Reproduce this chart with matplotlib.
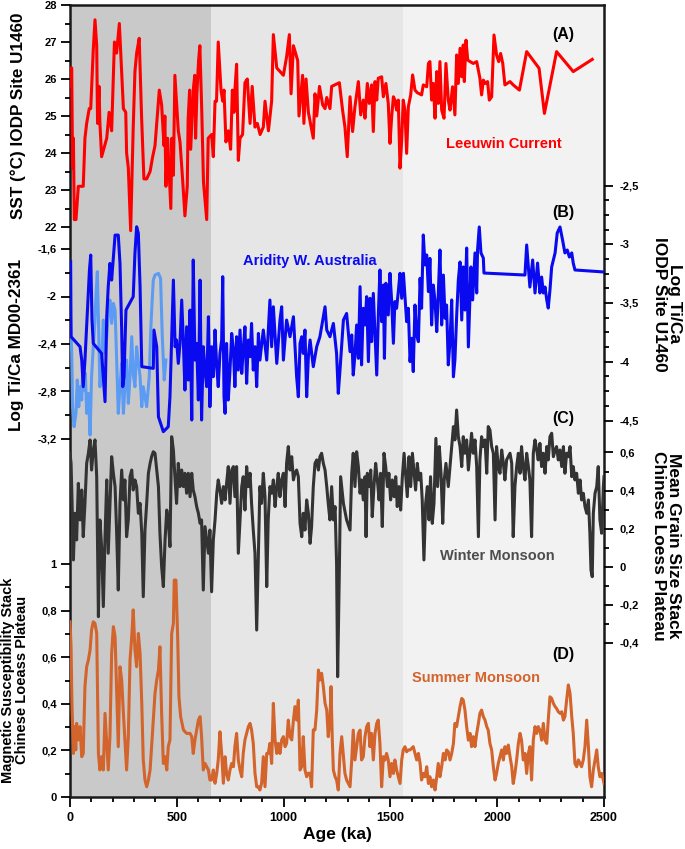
import matplotlib
matplotlib.use("Agg")
import matplotlib.pyplot as plt
from matplotlib.ticker import FuncFormatter, MultipleLocator

plt.rcParams["font.family"] = ["Liberation Sans", "DejaVu Sans"]
plt.rcParams["font.weight"] = "bold"

# ---- data (age in ka) ----
sst_age = [0, 3, 8, 12, 16, 20, 28, 39, 62, 70, 78, 90, 97, 109, 117, 125, 129, 136, 140, 148,
           172, 183, 195, 208, 218, 231, 250, 261, 265, 273, 284, 296, 304, 312, 324, 335, 346, 359,
           375, 387, 398, 418, 429, 440, 444, 449, 457, 465, 472, 477, 484, 491, 507, 515, 527, 538,
           549, 553, 560, 565, 577, 584, 588, 594, 602, 608, 617, 625, 640, 647, 663, 671, 679, 686,
           694, 707, 715, 721, 730, 741, 752, 760, 768, 772, 780, 788, 796, 808, 819, 830, 843, 853,
           866, 877, 890, 905, 913, 929, 944, 952, 968, 999, 1014, 1027, 1035, 1046, 1066, 1072,
           1081, 1089, 1095, 1105, 1116, 1139, 1147, 1155, 1168, 1183, 1194, 1202, 1217, 1225, 1261,
           1276, 1287, 1298, 1311, 1323, 1334, 1350, 1361, 1373, 1381, 1392, 1401, 1412, 1420, 1428,
           1436, 1443, 1459, 1467, 1479, 1490, 1498, 1506, 1514, 1521, 1529, 1537, 1545, 1553, 1560,
           1568, 1576, 1584, 1595, 1604, 1615, 1626, 1646, 1654, 1670, 1678, 1685, 1693, 1701, 1709,
           1717, 1724, 1732, 1740, 1751, 1760, 1771, 1779, 1791, 1802, 1810, 1818, 1826, 1834, 1841,
           1846, 1854, 1862, 1873, 1888, 1904, 1919, 1927, 1935, 1944, 1955, 1963, 1974, 1985, 1997,
           2007, 2016, 2026, 2036, 2060, 2075, 2104, 2138, 2196, 2221, 2278, 2356, 2445]
sst_val = [25.8, 26.3, 26.3, 23.6, 24.4, 22.2, 22.2, 23.1, 23.1, 24.4, 24.8, 25.2, 25.2, 26.8,
           27.6, 26.9, 24.8, 25.8, 24.8, 23.9, 24.4, 25.1, 24.6, 27.0, 26.7, 27.5, 25.2, 25.1, 24.0,
           23.6, 21.9, 24.7, 26.2, 26.7, 27.1, 25.0, 23.3, 23.3, 23.5, 23.9, 24.2, 25.7, 25.3, 24.2,
           25.0, 23.1, 24.4, 23.4, 22.5, 24.4, 23.4, 26.1, 24.6, 24.3, 23.3, 22.3, 23.1, 24.9, 25.7,
           24.1, 25.7, 26.1, 24.4, 25.6, 26.5, 26.9, 25.1, 23.2, 22.2, 24.4, 24.5, 23.9, 25.4, 25.4,
           27.0, 25.7, 25.4, 25.7, 24.3, 24.6, 24.1, 25.7, 25.1, 25.7, 26.4, 23.8, 24.4, 24.5, 25.9,
           26.0, 24.8, 25.8, 24.7, 24.8, 24.5, 24.7, 25.4, 24.6, 25.4, 27.2, 26.3, 26.1, 26.6, 27.2,
           25.6, 26.9, 26.5, 25.0, 25.6, 26.1, 24.8, 26.0, 25.1, 24.4, 25.6, 25.0, 25.8, 25.3, 25.2,
           25.5, 25.2, 25.8, 25.9, 25.16, 24.71, 23.90, 25.52, 24.58, 25.25, 25.93, 25.03, 25.43,
           24.94, 25.88, 25.34, 25.84, 24.58, 25.93, 25.43, 26.02, 26.06, 25.52, 25.88, 25.34, 24.26,
           24.98, 25.52, 25.43, 25.16, 25.43, 23.59, 24.35, 25.43, 25.16, 23.99, 25.25, 25.57, 26.11,
           25.70, 25.63, 25.57, 25.84, 25.79, 26.42, 26.47, 25.43, 25.88, 24.94, 26.20, 25.34, 26.47,
           25.16, 24.94, 26.42, 25.43, 25.16, 25.79, 25.03, 26.65, 25.88, 26.83, 26.06, 26.92, 25.93,
           27.05, 26.51, 26.47, 26.42, 26.47, 26.02, 25.57, 25.97, 25.88, 25.93, 25.43, 25.52, 27.19,
           26.65, 26.47, 26.69, 26.42, 25.84, 25.93, 25.84, 25.70, 26.74, 26.29, 25.07, 26.74, 26.20,
           26.53]

# Log Ti/Ca MD00-2361 (light blue, left axis)
md_age = [0, 8, 12, 19, 28, 34, 41, 47, 55, 59, 66, 72, 78, 86, 94, 101, 109, 117, 122, 128, 134,
          140, 148, 156, 164, 172, 179, 187, 195, 203, 211, 218, 226, 234, 242, 250, 257, 265, 273,
          281, 289, 296, 304, 312, 328, 336, 343, 359, 371, 378, 384, 390, 398, 414, 424, 432, 441,
          449]
md_val = [-2.058, -2.479, -2.928, -3.096, -2.984, -2.703, -2.928, -2.760, -2.872, -2.647, -2.788,
          -2.647, -2.984, -2.816, -3.167, -2.675, -2.423, -2.198, -1.974, -1.791, -2.254, -2.760,
          -2.591, -2.198, -2.479, -2.338, -2.142, -2.030, -2.226, -2.058, -2.114, -2.507, -2.984,
          -2.760, -2.563, -2.984, -2.760, -2.535, -2.900, -2.675, -2.338, -2.647, -2.760, -2.423,
          -2.675, -2.928, -2.760, -2.928, -2.675, -2.282, -2.058, -1.861, -1.819, -1.805, -1.847,
          -2.338, -2.703, -2.535]

# Log Ti/Ca IODP U1460 (dark blue, right axis)
u_age = [3, 5, 47, 55, 62, 70, 83, 91, 97, 103, 109, 148, 164, 172, 179, 187, 195, 211, 226, 234,
         242, 247, 253, 262, 296, 304, 312, 320, 328, 336, 390, 393, 406, 414, 437, 460, 468, 476,
         484, 492, 499, 507, 515, 523, 531, 538, 546, 554, 562, 570, 577, 585, 593, 601, 609, 616,
         624, 632, 640, 648, 655, 663, 671, 679, 687, 694, 702, 710, 715, 721, 726, 733, 741, 749,
         757, 765, 772, 780, 788, 796, 804, 811, 819, 827, 835, 843, 850, 858, 866, 874, 882, 889,
         905, 921, 936, 944, 952, 968, 983, 991, 999, 1014, 1030, 1046, 1061, 1069, 1077, 1085,
         1092, 1100, 1108, 1116, 1124, 1139, 1155, 1170, 1186, 1194, 1202, 1217, 1233, 1248, 1256,
         1264, 1280, 1295, 1311, 1319, 1326, 1334, 1342, 1350, 1358, 1365, 1373, 1381, 1389, 1397,
         1405, 1412, 1420, 1428, 1436, 1444, 1451, 1459, 1467, 1472, 1479, 1490, 1498, 1506, 1514,
         1521, 1529, 1537, 1545, 1553, 1561, 1568, 1576, 1584, 1592, 1600, 1607, 1615, 1623, 1631,
         1639, 1646, 1654, 1662, 1670, 1678, 1685, 1693, 1701, 1709, 1717, 1724, 1732, 1740, 1748,
         1756, 1763, 1771, 1779, 1787, 1795, 1802, 1810, 1818, 1826, 1834, 1841, 1849, 1857, 1865,
         1873, 1877, 1885, 1896, 1904, 1908, 1916, 1924, 1935, 1938, 2130, 2138, 2146, 2153, 2166,
         2177, 2189, 2200, 2208, 2216, 2224, 2232, 2239, 2247, 2255, 2271, 2281, 2294, 2306, 2317,
         2328, 2338, 2349, 2356, 2364, 2500]
u_val = [-3.149, -3.787, -3.872, -3.986, -4.212, -3.986, -3.503, -3.220, -3.092, -3.645, -3.844,
         -3.929, -4.340, -3.617, -3.361, -3.163, -3.305, -2.922, -2.922, -3.163, -3.730, -4.212,
         -4.127, -3.560, -3.446, -3.078, -2.851, -2.907, -3.361, -4.042, -4.056, -3.730, -3.872,
         -4.468, -4.595, -4.553, -4.298, -3.787, -3.305, -3.872, -3.815, -4.014, -3.844, -3.475,
         -3.844, -4.241, -3.702, -4.156, -3.560, -4.496, -3.134, -3.986, -3.844, -4.326, -3.305,
         -4.496, -3.872, -4.071, -4.212, -3.617, -4.383, -3.872, -4.127, -3.730, -4.042, -4.212,
         -3.929, -3.815, -3.276, -4.298, -4.439, -3.844, -4.326, -4.071, -3.759, -3.900, -4.212,
         -3.787, -4.071, -3.730, -4.099, -3.900, -3.702, -4.184, -3.815, -3.957, -3.674, -4.071,
         -3.872, -4.212, -3.759, -3.986, -3.730, -3.986, -3.475, -3.872, -3.532, -4.014, -3.645,
         -3.532, -3.986, -3.645, -3.787, -3.617, -4.127, -4.298, -3.844, -3.787, -3.929, -3.730,
         -4.298, -3.957, -3.815, -4.042, -3.872, -3.787, -3.617, -3.532, -3.730, -3.787, -3.674,
         -3.929, -4.269, -4.071, -3.645, -3.589, -3.914, -3.772, -4.113, -3.942, -3.687, -3.971,
         -3.361, -4.027, -3.545, -3.687, -3.446, -3.999, -3.460, -3.829, -3.418, -3.772, -4.113,
         -3.574, -3.219, -3.659, -3.347, -3.971, -3.332, -3.602, -3.247, -3.488, -3.843, -3.488,
         -3.545, -3.403, -3.247, -3.460, -3.247, -3.446, -3.659, -3.545, -3.999, -3.800, -4.084,
         -3.517, -3.772, -3.829, -3.290, -3.545, -2.921, -3.176, -3.091, -3.403, -3.120, -3.687,
         -3.347, -3.488, -3.744, -3.432, -3.049, -3.687, -3.262, -3.630, -3.517, -4.027, -3.829,
         -3.474, -4.128, -3.985, -3.619, -3.304, -3.151, -3.645, -3.193, -3.560, -3.032, -3.874,
         -3.415, -3.193, -3.474, -3.074, -3.415, -3.049, -2.853, -3.074, -3.117, -3.245, -3.262,
         -3.006, -3.193, -3.364, -3.134, -3.415, -3.160, -3.415, -3.279, -3.415, -3.364, -3.474,
         -3.543, -3.389, -3.193, -3.074, -2.904, -2.853, -2.964, -3.074, -3.049, -3.109, -3.074,
         -3.160, -3.219, -3.236]

# Mean grain size stack (winter monsoon, right axis)
gs_age = [0, 5, 9, 16, 23, 31, 39, 47, 55, 62, 70, 78, 86, 94, 101, 109, 117, 125, 133, 140, 148,
          156, 164, 172, 179, 187, 195, 203, 211, 218, 226, 234, 242, 250, 257, 265, 273, 281, 289,
          296, 304, 312, 320, 328, 336, 343, 351, 359, 367, 375, 382, 390, 398, 406, 414, 421, 429,
          437, 445, 453, 460, 468, 476, 484, 492, 499, 507, 515, 523, 531, 538, 546, 554, 562, 570,
          577, 585, 593, 601, 609, 616, 624, 632, 640, 648, 655, 663, 671, 679, 687, 694, 702, 710,
          718, 726, 733, 741, 749, 757, 765, 772, 780, 788, 796, 804, 811, 819, 827, 835, 843, 850,
          858, 866, 874, 882, 889, 897, 905, 913, 921, 928, 936, 944, 952, 960, 968, 975, 983, 991,
          999, 1007, 1014, 1022, 1030, 1038, 1046, 1053, 1061, 1069, 1077, 1085, 1092, 1100, 1108,
          1116, 1124, 1131, 1139, 1147, 1155, 1163, 1170, 1178, 1186, 1194, 1202, 1209, 1217, 1225,
          1233, 1241, 1248, 1253, 1261, 1267, 1280, 1295, 1311, 1319, 1326, 1334, 1342, 1350, 1358,
          1365, 1373, 1381, 1386, 1392, 1400, 1408, 1415, 1423, 1431, 1439, 1447, 1454, 1462, 1470,
          1478, 1486, 1493, 1501, 1509, 1517, 1525, 1532, 1540, 1548, 1556, 1564, 1571, 1579, 1587,
          1595, 1603, 1610, 1618, 1626, 1634, 1642, 1649, 1657, 1665, 1673, 1681, 1688, 1696, 1704,
          1713, 1721, 1729, 1737, 1745, 1752, 1760, 1771, 1787, 1795, 1802, 1810, 1818, 1826, 1834,
          1841, 1849, 1857, 1865, 1873, 1880, 1888, 1896, 1904, 1912, 1919, 1927, 1935, 1943, 1951,
          1958, 1966, 1974, 1982, 1990, 1997, 2005, 2013, 2021, 2029, 2036, 2044, 2052, 2060, 2068,
          2075, 2083, 2091, 2099, 2107, 2114, 2122, 2130, 2138, 2146, 2153, 2161, 2169, 2177, 2185,
          2192, 2200, 2208, 2216, 2224, 2232, 2239, 2247, 2255, 2263, 2271, 2278, 2286, 2294, 2302,
          2310, 2317, 2325, 2333, 2341, 2349, 2356, 2364, 2372, 2380, 2388, 2395, 2403, 2411, 2419,
          2427, 2434, 2439, 2445, 2450, 2458, 2466, 2473, 2481, 2489, 2497, 2500]
gs_val = [0.596, 0.543, 0.368, 0.036, 0.281, 0.141, 0.438, 0.246, 0.403, 0.158, 0.333, 0.543,
          0.596, 0.666, 0.508, 0.613, 0.666, 0.473, -0.262, 0.246, 0.106, -0.209, 0.158, 0.456,
          0.071, 0.333, 0.578, 0.491, 0.421, 0.193, -0.122, 0.333, 0.508, 0.351, 0.456, 0.158,
          0.246, 0.473, 0.508, 0.403, 0.456, 0.421, 0.281, 0.333, 0.176, -0.157, 0.193, 0.333,
          0.491, 0.543, 0.578, 0.604, 0.596, 0.508, 0.421, 0.176, 0.001, -0.104, 0.141, 0.298,
          0.246, 0.106, 0.683, 0.613, 0.456, 0.333, 0.543, 0.421, 0.508, 0.421, 0.491, 0.386,
          0.491, 0.368, 0.491, 0.403, 0.368, 0.316, 0.281, 0.228, 0.246, -0.122, 0.211, 0.141,
          0.071, 0.193, -0.131, 0.141, 0.246, 0.386, 0.456, 0.403, 0.333, 0.421, 0.351, 0.438,
          0.526, 0.333, 0.508, 0.526, 0.368, 0.526, 0.071, 0.246, 0.421, 0.473, 0.298, 0.526,
          0.421, 0.491, 0.333, 0.193, 0.071, -0.332, 0.071, 0.421, 0.333, 0.491, 0.368, -0.104,
          0.246, 0.421, 0.386, 0.456, 0.316, 0.421, 0.491, 0.368, 0.456, 0.491, 0.316, 0.543,
          0.631, 0.508, 0.578, 0.456, 0.491, 0.508, 0.473, 0.228, 0.158, 0.281, 0.193, 0.351,
          0.281, 0.123, 0.211, 0.421, 0.543, 0.561, 0.508, 0.578, 0.596, 0.543, 0.508, 0.421,
          0.333, 0.246, 0.421, 0.246, 0.316, 0.018, -0.577, -0.017, 0.473, 0.333, 0.246, 0.193,
          0.491, 0.596, 0.421, 0.604, 0.526, 0.386, 0.456, 0.351, 0.473, 0.158, 0.491, 0.421,
          0.508, 0.263, 0.421, 0.543, 0.456, 0.351, 0.491, 0.211, 0.596, 0.526, 0.421, 0.491,
          0.351, 0.456, 0.368, 0.473, 0.316, 0.421, 0.298, 0.473, 0.596, 0.491, 0.368, 0.578,
          0.421, 0.596, 0.508, 0.403, 0.543, 0.456, 0.491, 0.351, 0.036, 0.333, 0.421, 0.246,
          0.473, 0.228, 0.333, 0.674, 0.421, 0.631, 0.491, 0.228, 0.456, 0.543, 0.421, 0.631,
          0.736, 0.666, 0.823, 0.683, 0.631, 0.526, 0.683, 0.596, 0.666, 0.508, 0.613, 0.701,
          0.596, 0.666, 0.526, 0.158, 0.561, 0.683, 0.631, 0.666, 0.491, 0.736, 0.718, 0.631,
          0.596, 0.246, 0.631, 0.526, 0.491, 0.613, 0.543, 0.456, 0.561, 0.578, 0.596, 0.543,
          0.158, 0.421, 0.526, 0.596, 0.491, 0.631, 0.526, 0.456, 0.596, 0.526, 0.456, 0.158,
          0.596, 0.666, 0.613, 0.561, 0.648, 0.526, 0.596, 0.491, 0.631, 0.561, 0.683, 0.701,
          0.578, 0.613, 0.631, 0.561, 0.613, 0.526, 0.631, 0.491, 0.596, 0.578, 0.631, 0.473,
          0.526, 0.456, 0.491, 0.386, 0.456, 0.351, 0.386, 0.316, 0.281, 0.351, 0.176, -0.017,
          -0.052, 0.281, 0.386, 0.421, 0.526, 0.246, 0.176, 0.421, 0.473]

# Magnetic susceptibility stack (summer monsoon, left axis)
ms_age = [0, 5, 9, 16, 20, 27, 31, 39, 47, 55, 62, 70, 78, 86, 94, 101, 109, 117, 125, 133, 140,
          148, 156, 164, 172, 179, 187, 195, 203, 211, 218, 226, 234, 242, 250, 257, 265, 273, 281,
          289, 296, 304, 312, 320, 328, 336, 343, 351, 359, 367, 375, 382, 390, 398, 406, 414, 421,
          429, 437, 445, 453, 460, 468, 476, 484, 488, 496, 504, 510, 518, 531, 546, 562, 570, 577,
          585, 593, 601, 609, 616, 624, 632, 640, 648, 655, 663, 671, 679, 687, 694, 702, 710, 718,
          726, 733, 741, 749, 757, 765, 772, 780, 788, 796, 804, 811, 819, 827, 835, 843, 850, 858,
          866, 874, 882, 889, 897, 905, 913, 921, 928, 936, 944, 952, 960, 968, 975, 983, 991, 999,
          1007, 1014, 1022, 1030, 1038, 1046, 1053, 1061, 1069, 1077, 1085, 1092, 1100, 1108, 1116,
          1124, 1131, 1139, 1147, 1155, 1163, 1170, 1178, 1186, 1194, 1202, 1209, 1217, 1222, 1228,
          1233, 1241, 1248, 1256, 1264, 1272, 1280, 1287, 1295, 1311, 1319, 1326, 1334, 1342, 1350,
          1358, 1365, 1373, 1381, 1389, 1397, 1404, 1412, 1420, 1428, 1436, 1443, 1451, 1459, 1467,
          1475, 1482, 1490, 1498, 1506, 1514, 1521, 1529, 1537, 1545, 1553, 1560, 1568, 1576, 1584,
          1592, 1607, 1615, 1623, 1631, 1639, 1646, 1654, 1662, 1670, 1678, 1685, 1693, 1701, 1709,
          1717, 1724, 1732, 1740, 1748, 1756, 1763, 1771, 1779, 1787, 1795, 1802, 1810, 1818, 1826,
          1834, 1841, 1849, 1857, 1865, 1873, 1880, 1888, 1896, 1904, 1912, 1919, 1927, 1935, 1943,
          1951, 1958, 1966, 1974, 1982, 1990, 1997, 2005, 2013, 2021, 2029, 2036, 2044, 2052, 2060,
          2068, 2075, 2083, 2091, 2099, 2107, 2114, 2122, 2130, 2138, 2146, 2153, 2161, 2169, 2177,
          2185, 2192, 2200, 2208, 2216, 2224, 2232, 2239, 2247, 2255, 2263, 2271, 2278, 2286, 2294,
          2302, 2310, 2317, 2325, 2333, 2341, 2349, 2356, 2364, 2372, 2380, 2388, 2395, 2403, 2411,
          2419, 2427, 2434, 2442, 2450, 2458, 2466, 2473, 2481, 2489, 2497, 2500]
ms_val = [0.752, 0.645, 0.402, 0.187, 0.302, 0.202, 0.316, 0.245, 0.302, 0.173, 0.187, 0.474,
          0.559, 0.588, 0.631, 0.717, 0.752, 0.745, 0.702, 0.187, 0.116, 0.173, 0.116, 0.359,
          0.230, 0.116, 0.259, 0.617, 0.731, 0.688, 0.474, 0.216, 0.559, 0.502, 0.359, 0.245,
          0.116, 0.259, 0.588, 0.688, 0.803, 0.631, 0.559, 0.702, 0.617, 0.402, 0.159, 0.073,
          0.044, 0.073, 0.116, 0.216, 0.330, 0.445, 0.502, 0.545, 0.645, 0.359, 0.144, 0.173,
          0.116, 0.216, 0.245, 0.702, 0.745, 0.931, 0.931, 0.688, 0.431, 0.345, 0.288, 0.273,
          0.273, 0.259, 0.187, 0.245, 0.288, 0.330, 0.345, 0.259, 0.116, 0.144, 0.130, 0.116,
          0.073, 0.073, 0.116, 0.059, 0.102, 0.159, 0.280, 0.187, 0.059, 0.173, 0.102, 0.073,
          0.116, 0.144, 0.130, 0.216, 0.273, 0.159, 0.116, 0.087, 0.187, 0.245, 0.273, 0.302,
          0.316, 0.288, 0.230, 0.102, 0.044, 0.044, 0.030, 0.059, 0.173, 0.044, 0.187, 0.187,
          0.230, 0.144, 0.402, 0.245, 0.187, 0.230, 0.187, 0.245, 0.259, 0.216, 0.230, 0.330,
          0.259, 0.245, 0.330, 0.388, 0.330, 0.416, 0.116, 0.130, 0.259, 0.116, 0.087, 0.102,
          0.102, 0.044, 0.288, 0.288, 0.373, 0.545, 0.502, 0.531, 0.474, 0.402, 0.373, 0.259,
          0.330, 0.474, 0.245, 0.116, 0.087, 0.073, 0.030, 0.187, 0.259, 0.173, 0.102, 0.073,
          0.044, 0.159, 0.287, 0.159, 0.216, 0.273, 0.287, 0.159, 0.173, 0.259, 0.302, 0.316,
          0.216, 0.273, 0.159, 0.273, 0.316, 0.330, 0.230, 0.044, 0.173, 0.159, 0.187, 0.159,
          0.087, 0.144, 0.101, 0.159, 0.116, 0.087, 0.058, 0.159, 0.202, 0.216, 0.194, 0.202,
          0.202, 0.216, 0.187, 0.159, 0.187, 0.144, 0.073, 0.101, 0.087, 0.130, 0.058, 0.087,
          0.044, 0.073, 0.030, 0.087, 0.144, 0.087, 0.130, 0.187, 0.159, 0.202, 0.194, 0.159,
          0.187, 0.230, 0.316, 0.302, 0.345, 0.388, 0.423, 0.416, 0.373, 0.302, 0.244, 0.273,
          0.216, 0.259, 0.216, 0.273, 0.316, 0.359, 0.373, 0.345, 0.330, 0.302, 0.287, 0.230,
          0.202, 0.130, 0.073, 0.101, 0.144, 0.173, 0.202, 0.159, 0.216, 0.187, 0.223, 0.173,
          0.130, 0.058, 0.101, 0.159, 0.230, 0.273, 0.244, 0.159, 0.187, 0.101, 0.187, 0.216,
          0.073, 0.244, 0.302, 0.273, 0.302, 0.287, 0.244, 0.316, 0.244, 0.230, 0.330, 0.430,
          0.423, 0.402, 0.388, 0.380, 0.366, 0.359, 0.366, 0.330, 0.345, 0.416, 0.481, 0.445,
          0.345, 0.273, 0.144, 0.130, 0.159, 0.144, 0.130, 0.159, 0.216, 0.330, 0.216, 0.087,
          0.044, 0.116, 0.159, 0.202, 0.130, 0.087, 0.101, 0.073, 0.058]

# shaded intervals (ka) and their greys
bands = [(0, 660, "#c9c9c9"), (660, 1560, "#e6e6e6"), (1560, 2500, "#f2f2f2")]

# ---- layout (figure pixels, measured from the top) ----
W, H = 685, 849
L_PX, R_PX, T_PX, B_PX = 70, 604, 5, 797
rect = [L_PX / W, 1 - B_PX / H, (R_PX - L_PX) / W, (B_PX - T_PX) / H]

fig = plt.figure(figsize=(W / 100, H / 100), dpi=100)
ax = fig.add_axes(rect)
ax.set_xlim(0, 2500)
ax.set_ylim(0, 1)
for x0, x1, c in bands:
    ax.axvspan(x0, x1, color=c, lw=0, zorder=0)
ax.set_yticks([])
ax.xaxis.set_major_locator(MultipleLocator(500))
ax.xaxis.set_minor_locator(MultipleLocator(100))
ax.tick_params(axis="x", which="major", direction="out", length=7, width=1.3,
               labelsize=9, pad=4)
ax.tick_params(axis="x", which="minor", direction="out", length=3.5, width=1.3)
for s in ax.spines.values():
    s.set_linewidth(1.8)
    s.set_color("#1a1a1a")
ax.set_xlabel("Age (ka)", fontsize=12.5, fontweight="bold", labelpad=2)

comma = FuncFormatter(lambda v, p: f"{v:g}".replace(".", ","))


def overlay(side, v1, p1, v2, p2, major, minor):
    a = fig.add_axes(rect, sharex=ax)
    a.patch.set_visible(False)
    for s in a.spines.values():
        s.set_visible(False)
    a.tick_params(axis="x", which="both", bottom=False, labelbottom=False)
    k = (v1 - v2) / (p2 - p1)
    a.set_ylim(v1 - (B_PX - p1) * k, v1 + (p1 - T_PX) * k)
    if side == "left":
        a.yaxis.tick_left()
    else:
        a.yaxis.tick_right()
    a.set_yticks(major)
    a.set_yticks(minor, minor=True)
    a.yaxis.set_major_formatter(comma)
    a.tick_params(axis="y", which="major", direction="out", length=6.5, width=1.3,
                  labelsize=8, pad=3 if side == "left" else 5)
    a.tick_params(axis="y", which="minor", direction="out", length=3.5, width=1.3)
    return a


LW = 2.2

a_ms = overlay("left", 1.0, 564, 0.0, 797, [0, 0.2, 0.4, 0.6, 0.8, 1.0],
               [0.1, 0.3, 0.5, 0.7, 0.9])
a_ms.plot(ms_age, ms_val, color="#d2642c", lw=LW)

a_gs = overlay("right", 0.6, 452.5, -0.4, 643, [0.6, 0.4, 0.2, 0, -0.2, -0.4],
               [0.5, 0.3, 0.1, -0.1, -0.3])
a_gs.plot(gs_age, gs_val, color="#333333", lw=LW)

a_md = overlay("left", -1.6, 249, -3.2, 439, [-1.6, -2.0, -2.4, -2.8, -3.2],
               [-1.8, -2.2, -2.6, -3.0])
a_md.plot(md_age, md_val, color="#5c9bf4", lw=LW)

a_u = overlay("right", -2.5, 185.5, -4.5, 420.5, [-2.5, -3.0, -3.5, -4.0, -4.5],
              [-2.625, -2.75, -2.875, -3.125, -3.25, -3.375, -3.625, -3.75, -3.875,
               -4.125, -4.25, -4.375])
a_u.plot(u_age, u_val, color="#0a0af0", lw=LW)

a_sst = overlay("left", 28, 5, 22, 227, [22, 23, 24, 25, 26, 27, 28],
                [22.5, 23.5, 24.5, 25.5, 26.5, 27.5])
a_sst.plot(sst_age, sst_val, color="#ff0000", lw=LW)


# panel letters and captions (x in ka, y as fraction of the frame)
def frac(py):
    return (B_PX - py) / (B_PX - T_PX)


tr = ax.get_xaxis_transform()
for lab, py in [("(A)", 35), ("(B)", 213), ("(C)", 418), ("(D)", 655)]:
    ax.text(2308, frac(py), lab, transform=tr, ha="center", va="center",
            fontsize=11.5, fontweight="bold", color="black", zorder=10)
ax.text(2032, frac(144), "Leeuwin Current", transform=tr, ha="center", va="center",
        fontsize=10.5, fontweight="bold", color="#ff0000", zorder=10)
ax.text(1124, frac(261), "Aridity W. Australia", transform=tr, ha="center", va="center",
        fontsize=10.5, fontweight="bold", color="#0a0af0", zorder=10)
ax.text(1999, frac(556), "Winter Monsoon", transform=tr, ha="center", va="center",
        fontsize=10.5, fontweight="bold", color="#4d4d4d", zorder=10)
ax.text(1901, frac(678), "Summer Monsoon", transform=tr, ha="center", va="center",
        fontsize=10.5, fontweight="bold", color="#d2642c", zorder=10)

# axis titles
fig.text(18.5 / W, 1 - 116 / H, "SST (°C) IODP Site U1460", rotation=90,
         ha="center", va="center", fontsize=12.3, fontweight="bold")
fig.text(17 / W, 1 - 345 / H, "Log Ti/Ca MD00-2361", rotation=90,
         ha="center", va="center", fontsize=12.3, fontweight="bold")
fig.text(15 / W, 1 - 680 / H, "Magnetic Susceptibility Stack\nChinese Loeass Plateau",
         rotation=90, ha="center", va="center", fontsize=10.5, fontweight="bold",
         linespacing=0.95, multialignment="center")
fig.text(667 / W, 1 - 304 / H, "Log Ti/Ca\nIODP Site U1460", rotation=270,
         ha="center", va="center", fontsize=12.5, fontweight="bold",
         linespacing=0.95, multialignment="center")
fig.text(666 / W, 1 - 546 / H, "Mean Grain Size Stack\nChinese Loess Plateau", rotation=270,
         ha="center", va="center", fontsize=12.5, fontweight="bold",
         linespacing=0.95, multialignment="center")

fig.savefig("out.png", dpi=100)
